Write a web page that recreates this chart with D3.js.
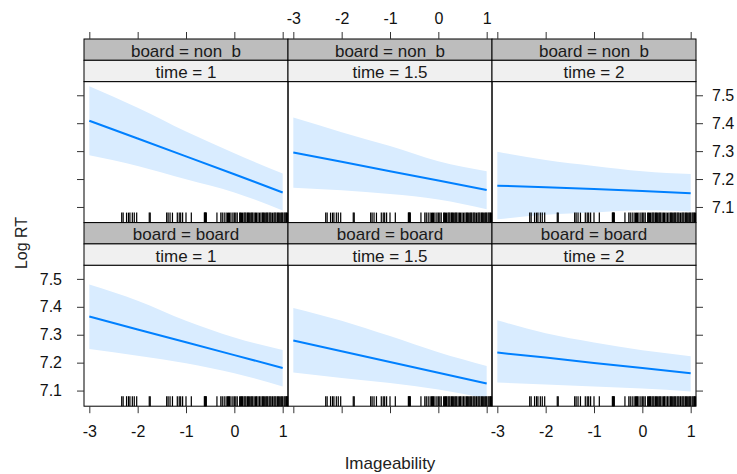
<!DOCTYPE html>
<html>
<head>
<meta charset="utf-8">
<script src="https://cdn.jsdelivr.net/npm/d3@7"></script>
<style>
  body { margin: 0; background: #fff; }
  text { font-family: "Liberation Sans", Arial, sans-serif; }
</style>
</head>
<body>
<script>
var w = 737;
var h = 474;

// data
var imageability = [-3, -2, -1, 0, 1];
var xTicks = [-3, -2, -1, 0, 1];
var yTicks = [7.1, 7.2, 7.3, 7.4, 7.5];
var boardLevels = ["non_b", "board"];
var timeLevels = ["1", "1.5", "2"];

var fitNonB1 = [7.409, 7.345, 7.281, 7.217, 7.152];
var lowNonB1 = [7.285, 7.247, 7.199, 7.152, 7.087];
var uppNonB1 = [7.532, 7.455, 7.370, 7.292, 7.220];

var fitNonB15 = [7.295, 7.262, 7.228, 7.195, 7.161];
var lowNonB15 = [7.169, 7.160, 7.146, 7.127, 7.092];
var uppNonB15 = [7.420, 7.368, 7.318, 7.264, 7.228];

var fitNonB2 = [7.176, 7.171, 7.164, 7.157, 7.149];
var lowNonB2 = [7.056, 7.072, 7.080, 7.088, 7.084];
var uppNonB2 = [7.298, 7.268, 7.247, 7.228, 7.218];

var fitBoard1 = [7.365, 7.319, 7.273, 7.227, 7.181];
var lowBoard1 = [7.249, 7.225, 7.198, 7.162, 7.115];
var uppBoard1 = [7.480, 7.422, 7.350, 7.290, 7.245];

var fitBoard15 = [7.279, 7.241, 7.202, 7.164, 7.125];
var lowBoard15 = [7.165, 7.145, 7.127, 7.104, 7.072];
var uppBoard15 = [7.396, 7.350, 7.295, 7.237, 7.188];

var fitBoard2 = [7.236, 7.218, 7.199, 7.181, 7.162];
var lowBoard2 = [7.129, 7.122, 7.115, 7.107, 7.097];
var uppBoard2 = [7.352, 7.305, 7.272, 7.244, 7.223];

var rugValues = [-2.33, -2.30, -2.23, -2.19, -2.16, -2.11, -2.07, -2.02,
  -1.76, -1.74, -1.40, -1.37, -1.33, -1.28, -1.18, -1.14, -1.11, -1.07, -1.00, -0.89,
  -0.62, -0.61, -0.60, -0.59, -0.58, -0.36, -0.28, -0.25, -0.21, -0.17, -0.14, -0.12,
  -0.10, -0.07, -0.03, 0.00, 0.03, 0.06, 0.11, 0.13, 0.15, 0.17, 0.20, 0.22, 0.24,
  0.27, 0.29, 0.31, 0.34, 0.36, 0.38, 0.41, 0.44, 0.46, 0.49, 0.52, 0.55, 0.58, 0.60,
  0.62, 0.65, 0.67, 0.69, 0.72, 0.74, 0.76, 0.79, 0.82, 0.84, 0.86, 0.89, 0.91, 0.93,
  0.96, 0.98, 1.00, 1.03, 1.05, 1.07, 1.08, 1.10];

var panels = [
  {row: 0, col: 0, fit: fitNonB1, low: lowNonB1, upp: uppNonB1},
  {row: 0, col: 1, fit: fitNonB15, low: lowNonB15, upp: uppNonB15},
  {row: 0, col: 2, fit: fitNonB2, low: lowNonB2, upp: uppNonB2},
  {row: 1, col: 0, fit: fitBoard1, low: lowBoard1, upp: uppBoard1},
  {row: 1, col: 1, fit: fitBoard15, low: lowBoard15, upp: uppBoard15},
  {row: 1, col: 2, fit: fitBoard2, low: lowBoard2, upp: uppBoard2}
];

// layout
var left = 84, panelW = 204;
var top0 = 39, stripH = 21.3, panelH = 141;
var rowTop = function(r) { return top0 + r * (2 * stripH + panelH); };
var panelTop = function(r) { return rowTop(r) + 2 * stripH; };

var svg = d3.select("body")
  .append("svg")
  .attr("width", w)
  .attr("height", h);

function xScale(c) {
  return d3.scaleLinear().domain([-3.11, 1.11]).range([left + c * panelW, left + (c + 1) * panelW]);
}
function yScale(r) {
  return d3.scaleLinear().domain([7.044, 7.549]).range([panelTop(r) + panelH, panelTop(r)]);
}

var fmt = function(d) { return String(d); };

panels.forEach(function(p) {
  var x = xScale(p.col), y = yScale(p.row);
  var g = svg.append("g");

  var area = d3.area()
    .x(function(d, i) { return x(imageability[i]); })
    .y0(function(d, i) { return y(p.low[i]); })
    .y1(function(d, i) { return y(p.upp[i]); })
    .curve(d3.curveMonotoneX);
  g.append("path")
    .attr("d", area(imageability))
    .attr("fill", "#d9ecff");

  var line = d3.line()
    .x(function(d, i) { return x(imageability[i]); })
    .y(function(d) { return y(d); });
  g.append("path")
    .attr("d", line(p.fit))
    .attr("fill", "none")
    .attr("stroke", "#0080ff")
    .attr("stroke-width", 2);

  g.selectAll("line.rug")
    .data(rugValues)
    .enter()
    .append("line")
    .attr("x1", function(d) { return x(d); })
    .attr("x2", function(d) { return x(d); })
    .attr("y1", panelTop(p.row) + panelH)
    .attr("y2", panelTop(p.row) + panelH - 10)
    .attr("stroke", "#000")
    .attr("stroke-width", 1.2);

  g.append("rect")
    .attr("x", left + p.col * panelW)
    .attr("y", panelTop(p.row))
    .attr("width", panelW)
    .attr("height", panelH)
    .attr("fill", "none")
    .attr("stroke", "#000");

  // strips
  var stripText = ["board = " + boardLevels[p.row], "time = " + timeLevels[p.col]];
  var stripFill = ["#bdbdbd", "#f0f0f0"];
  for (var k = 0; k < 2; k++) {
    var sy = rowTop(p.row) + k * stripH;
    var cid = "clip" + p.row + p.col + k;
    svg.append("clipPath").attr("id", cid)
      .append("rect")
      .attr("x", left + p.col * panelW)
      .attr("y", sy + 0.5)
      .attr("width", panelW)
      .attr("height", stripH - 1.6);
    svg.append("rect")
      .attr("x", left + p.col * panelW)
      .attr("y", sy)
      .attr("width", panelW)
      .attr("height", stripH)
      .attr("fill", stripFill[k])
      .attr("stroke", "#000");
    svg.append("text")
      .attr("clip-path", "url(#" + cid + ")")
      .attr("x", left + p.col * panelW + panelW / 2)
      .attr("y", sy + stripH - 3.5)
      .attr("text-anchor", "middle")
      .attr("font-size", "17px")
      .attr("fill", "#1a1a1a")
      .text(stripText[k]);
  }
});

function styleAxis(g) {
  g.select(".domain").remove();
  g.selectAll(".tick line").attr("stroke", "#333");
  g.selectAll(".tick text").attr("font-size", "16px").attr("fill", "#111")
    .style("font-family", "'Liberation Sans', Arial, sans-serif");
}

// x axes: ticks everywhere, labels alternating
for (var c = 0; c < 3; c++) {
  var xs = xScale(c);
  var topAxis = d3.axisTop(xs).tickValues(xTicks).tickSize(7).tickPadding(8)
    .tickFormat(c === 1 ? fmt : function() { return ""; });
  svg.append("g").attr("transform", "translate(0," + rowTop(0) + ")").call(topAxis).call(styleAxis);
  var botAxis = d3.axisBottom(xs).tickValues(xTicks).tickSize(7).tickPadding(12)
    .tickFormat(c !== 1 ? fmt : function() { return ""; });
  svg.append("g").attr("transform", "translate(0," + (panelTop(1) + panelH) + ")").call(botAxis).call(styleAxis);
}

// y axes
for (var r = 0; r < 2; r++) {
  var ys = yScale(r);
  var leftAxis = d3.axisLeft(ys).tickValues(yTicks).tickSize(7).tickPadding(15)
    .tickFormat(r === 1 ? fmt : function() { return ""; });
  svg.append("g").attr("transform", "translate(" + left + ",0)").call(leftAxis).call(styleAxis);
  var rightAxis = d3.axisRight(ys).tickValues(yTicks).tickSize(7).tickPadding(9)
    .tickFormat(r === 0 ? fmt : function() { return ""; });
  svg.append("g").attr("transform", "translate(" + (left + 3 * panelW) + ",0)").call(rightAxis).call(styleAxis);
}

// axis titles
svg.append("text")
  .attr("x", left + 1.5 * panelW)
  .attr("y", 469)
  .attr("text-anchor", "middle")
  .attr("font-size", "17px")
  .attr("fill", "#222")
  .text("Imageability");

svg.append("text")
  .attr("transform", "translate(27,243) rotate(-90)")
  .attr("text-anchor", "middle")
  .attr("font-size", "16px")
  .attr("fill", "#222")
  .text("Log RT");
</script>
</body>
</html>
